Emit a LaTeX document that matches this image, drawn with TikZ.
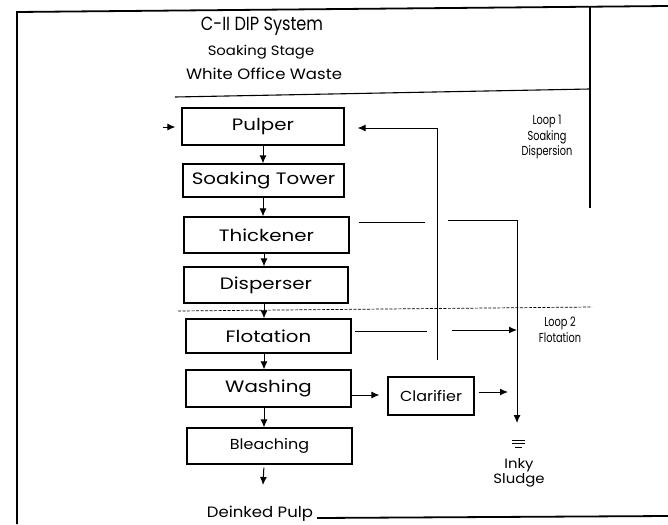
\documentclass[tikz,border=0pt]{standalone}
\usepackage{fontspec}
\setmainfont{Poppins}
\newfontfamily\boxfont[FakeStretch=1.2]{Poppins}
\newfontfamily\wideish[FakeStretch=1.1]{Poppins}
\newfontfamily\titlefont[FakeStretch=0.85]{Poppins}
\newfontfamily\condfont[FakeStretch=0.75]{Poppins}
\usetikzlibrary{arrows.meta}
\begin{document}
\begin{tikzpicture}[x=1pt,y=-1pt,
  stage/.style={draw,line width=1.2pt,inner sep=0pt,font=\boxfont\fontsize{16.5}{18}\selectfont},
  smallstage/.style={stage,font=\wideish\fontsize{14.5}{16}\selectfont},
  arr/.style={line width=1pt,-{Latex[length=8pt,width=7pt]}},
  conn/.style={line width=1pt},
  frame/.style={line width=1.8pt},
  looplbl/.style={align=center,inner sep=0pt,font=\condfont\fontsize{13}{15.5}\selectfont}]
\useasboundingbox (0,0) rectangle (668,524);
% frame
\draw[frame] (17,524) -- (17,12) -- (668,6);
\draw[line width=1.3pt] (590,6) -- (590,208);
\draw[line width=1.1pt] (175,97) -- (590,89);
\draw[line width=0.7pt,dashed,dash pattern=on 3pt off 1.5pt] (178,311) -- (592,307);
\draw[frame] (317,518) -- (668,516);
% titles
\node[font=\titlefont\fontsize{19}{20}\selectfont] (title) at (262,26) {C-II DIP System};
\node[font=\wideish\fontsize{13.5}{14}\selectfont] (sub1) at (261,52) {Soaking Stage};
\node[font=\wideish\fontsize{15}{16}\selectfont] (sub2) at (264,74) {White Office Waste};
% stages
\node[stage,minimum width=162pt,minimum height=37pt] (pulper) at (263,126.5) {Pulper};
\node[stage,minimum width=161pt,minimum height=33pt] (soak) at (263.5,180.5) {Soaking Tower};
\node[stage,minimum width=165pt,minimum height=36pt] (thick) at (266.5,235) {Thickener};
\node[stage,minimum width=164pt,minimum height=36pt] (disp) at (266,285) {Disperser};
\node[stage,minimum width=165pt,minimum height=34pt] (flot) at (268.5,336) {Flotation};
\node[stage,minimum width=165pt,minimum height=37pt] (wash) at (268.5,388.5) {Washing};
\node[smallstage,minimum width=165pt,minimum height=36pt] (bleach) at (269.5,446) {Bleaching};
\node[smallstage,minimum width=86pt,minimum height=38pt] (clar) at (431,396) {Clarifier};
\node[font=\wideish\fontsize{15}{16}\selectfont,inner sep=0pt] (pulp) at (260,514) {Deinked Pulp};
% loop labels
\node[looplbl] (loop1) at (547,137) {Loop 1\\Soaking\\Dispersion};
\node[looplbl] (loop2) at (560,330) {Loop 2\\Flotation};
% sludge
\node[font=\wideish\fontsize{13.5}{14.5}\selectfont,align=center,inner sep=0pt] (sludge) at (519,473) {Inky\\Sludge};
\draw[line width=0.9pt] (512,440) -- (525,440) (512,443.5) -- (525,443.5) (515,447) -- (522,447);
% coordinates
\coordinate (in) at (163,127);
\coordinate (fb) at (437,360);
\coordinate (fbtop) at (437,128);
\coordinate (tk1) at (425,222);
\coordinate (tk2) at (448,220);
\coordinate (tk3) at (517,220);
\coordinate (sl) at (517,423);
\coordinate (fl1) at (427,331);
\coordinate (fl2) at (452,330);
\coordinate (fl3) at (517,330);
\coordinate (cl2) at (508,392);
\coordinate (out) at (263,485);
% main flow
\draw[arr,shorten >=6pt] (in) -- (pulper.west |- in);
\draw[arr] (pulper.south -| 263,0) -- (soak.north -| 263,0);
\draw[arr] (soak.south -| 263,0) -- (thick.north -| 263,0);
\draw[arr] (thick.south -| 264,0) -- (disp.north -| 264,0);
\draw[arr] (disp.south -| 264,0) -- (flot.north -| 264,0);
\draw[arr] (flot.south -| 264,0) -- (wash.north -| 264,0);
\draw[arr] (wash.south -| 264,0) -- (bleach.north -| 264,0);
\draw[arr,shorten <=3pt] (bleach.south -| 264,0) -- (out);
% recycle loop
\draw[arr,shorten >=13pt] (fb) -- (fbtop) -- (pulper.east |- fbtop);
% thickener to sludge
\draw[conn,shorten <=9pt] (thick.east |- tk1) -- (tk1);
\draw[arr] (tk2) -- (tk3) -- (sl);
% flotation to sludge line
\draw[conn,shorten <=3pt] (flot.east |- fl1) -- (fl1);
\draw[arr] (fl2) -- (fl3);
% washing to clarifier
\draw[arr,shorten >=8pt] (wash.east |- 0,395) -- (clar.west |- 0,395);
\draw[arr,shorten <=4pt] (clar.east |- cl2) -- (cl2);
\end{tikzpicture}
\end{document}
